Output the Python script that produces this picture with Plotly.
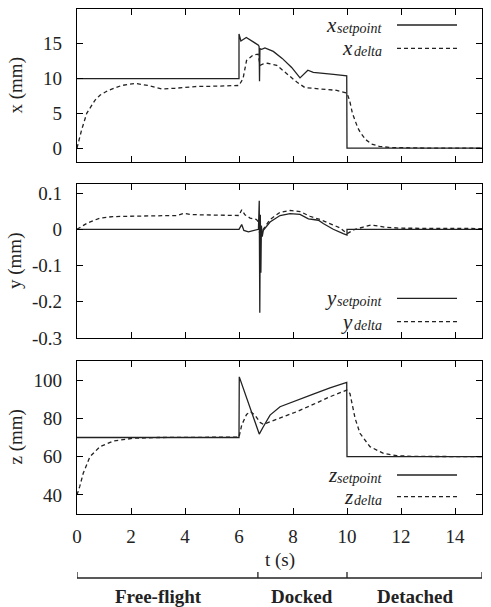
import plotly.graph_objects as go

# ---------------- data ----------------
t_x_set = [0, 6.0, 6.0, 6.07, 6.27, 6.59, 6.72, 6.745, 6.76, 6.775, 6.84, 6.96, 7.27, 7.6, 7.95,
           8.26, 8.41, 8.55, 8.75, 9.12, 9.5, 9.99, 10.0, 15.0]
x_set = [10, 10, 16.4, 15.4, 15.9, 15.2, 14.8, 14.6, 9.6, 14.3, 14.2, 14.4, 13.9, 12.9, 11.6,
         10.1, 10.6, 11.2, 10.9, 10.7, 10.6, 10.4, 0, 0]

t_x_delta = [0, 0.17, 0.36, 0.67, 0.85, 1.16, 1.65, 2.15, 2.64, 3.14, 3.63, 4.37, 5.1, 6.0,
             6.15, 6.28, 6.53, 6.71, 6.78, 6.9, 7.05, 7.4, 7.77, 8.14, 8.44, 9.0, 9.62, 10.0,
             10.1, 10.2, 10.3, 10.4, 10.5, 10.7, 10.9, 11.2, 11.6, 12.0, 13.0, 15.0]
x_delta = [0, 2.6, 5.0, 6.9, 7.6, 8.3, 9.0, 9.3, 9.0, 8.5, 8.6, 8.85, 8.9, 9.0,
           10.0, 12.6, 13.4, 13.5, 11.9, 12.1, 12.2, 11.9, 10.7, 9.5, 8.7, 8.5, 8.3, 7.9,
           6.8, 5.0, 3.8, 2.9, 2.2, 1.2, 0.6, 0.25, 0.08, 0.03, 0.0, 0.0]

t_y_set = [0, 6.0, 6.1, 6.18, 6.35, 6.59, 6.72, 6.75, 6.77, 6.79, 6.81, 6.83, 6.86, 6.9,
           7.15, 7.52, 7.89, 8.26, 8.57, 8.75, 8.94, 9.12, 9.49, 9.86, 10.0, 10.0, 15.0]
y_set = [0, 0, 0.013, -0.003, -0.007, -0.003, 0, 0.079, -0.23, 0.04, -0.12, 0.01, -0.02, -0.003,
         0.02, 0.038, 0.043, 0.041, 0.029, 0.027, 0.025, 0.016, 0.0, -0.012, -0.016, 0, 0]

t_y_delta = [0, 0.4, 0.85, 1.33, 2.7, 3.7, 3.94, 4.2, 4.55, 5.8, 6.0, 6.1, 6.22, 6.41, 6.65,
             6.72, 6.76, 6.8, 6.85, 6.9, 7.15, 7.52, 7.89, 8.26, 8.63, 9.0, 9.37, 9.74, 10.0,
             10.3, 10.6, 10.9, 11.4, 12.0, 15.0]
y_delta = [0, 0.018, 0.031, 0.035, 0.037, 0.038, 0.044, 0.041, 0.040, 0.038, 0.038, 0.054, 0.040,
           0.031, 0.027, 0.020, -0.010, 0.005, -0.008, 0.0, 0.027, 0.047, 0.052, 0.049, 0.036,
           0.027, 0.016, 0.004, -0.012, 0.0, 0.006, 0.012, 0.006, 0.003, 0.002]

t_z_set = [0, 6.0, 6.01, 6.75, 6.9, 7.15, 7.52, 8.14, 8.75, 9.37, 9.99, 10.0, 15.0]
z_set = [70, 70, 101.7, 71.8, 75.6, 81.7, 86.1, 89.6, 92.7, 96.0, 98.8, 60, 60]

t_z_delta = [0, 0.1, 0.23, 0.48, 0.85, 1.35, 2.09, 3.0, 6.0, 6.1, 6.28, 6.43, 6.59, 6.78, 6.9,
             7.52, 8.14, 8.75, 9.37, 9.99, 10.11, 10.3, 10.48, 10.85, 11.35, 11.84, 12.5, 15.0]
z_delta = [40, 44.3, 51.3, 60, 65.2, 68.2, 69.6, 70, 70.2, 76.5, 82.1, 83.5, 81.7, 77.9, 76.9,
           80, 83.5, 87.3, 91.3, 94.8, 93, 80, 72.2, 65.2, 61.7, 60.5, 60.1, 60]

t_ticks = [0, 2, 4, 6, 8, 10, 12, 14]
x_ticks = [0, 5, 10, 15, 20]
y_ticks = [-0.3, -0.2, -0.1, 0, 0.1]
y_ticktext = ["-0.3", "-0.2", "-0.1", "0", "0.1"]
z_ticks = [40, 60, 80, 100]

phase_bounds = [0, 6.7, 10, 15]
phase_names = ["Free-flight", "Docked", "Detached"]
phase_label_t = [3.0, 8.35, 12.5]

legend_sym = ["x", "y", "z"]
legend_sub = ["setpoint", "delta"]

# ---------------- style ----------------
INK = "#222222"
FONT = "Liberation Serif"
solid = dict(color=INK, width=1.3)
dashed = dict(color=INK, width=1.3, dash="4px,3px")

W, H = 491, 607
ML, MR, MT, MB = 77, 9, 9, 93
PW, PH = W - ML - MR, H - MT - MB


def px_x(p):
    return (p - ML) / PW


def px_y(p):
    return (H - MB - p) / PH


def fnt(size):
    return dict(family=FONT, size=size)


fig = go.Figure()
series = [
    (t_x_set, x_set, t_x_delta, x_delta, "x", "y"),
    (t_y_set, y_set, t_y_delta, y_delta, "x2", "y2"),
    (t_z_set, z_set, t_z_delta, z_delta, "x3", "y3"),
]
for ts, vs, td, vd, xa, ya in series:
    fig.add_trace(go.Scatter(x=ts, y=vs, mode="lines", line=solid, xaxis=xa, yaxis=ya,
                             showlegend=False))
    fig.add_trace(go.Scatter(x=td, y=vd, mode="lines", line=dashed, xaxis=xa, yaxis=ya,
                             showlegend=False))

axis_common = dict(showline=True, linecolor="black", linewidth=1.2, mirror="ticks",
                   ticks="inside", ticklen=6, tickwidth=1, tickcolor="black",
                   showgrid=False, zeroline=False, tickfont=fnt(19))

doms = [[px_y(162), px_y(9)], [px_y(338), px_y(184)], [px_y(514), px_y(361)]]
fig.update_layout(
    width=W, height=H,
    margin=dict(l=ML, r=MR, t=MT, b=MB),
    paper_bgcolor="white", plot_bgcolor="white",
    font=dict(family=FONT, color=INK),
    xaxis=dict(axis_common, domain=[0, 1], anchor="y", range=[0, 15], tickvals=t_ticks,
               showticklabels=False),
    xaxis2=dict(axis_common, domain=[0, 1], anchor="y2", range=[0, 15], tickvals=t_ticks,
                showticklabels=False),
    xaxis3=dict(axis_common, domain=[0, 1], anchor="y3", range=[0, 15], tickvals=t_ticks,
                ticklabelstandoff=5),
    yaxis=dict(axis_common, domain=doms[0], anchor="x", range=[-2, 20], tickvals=x_ticks,
               ticklabelstandoff=10),
    yaxis2=dict(axis_common, domain=doms[1], anchor="x2", range=[-0.3, 0.125],
                tickvals=y_ticks, ticktext=y_ticktext, ticklabelstandoff=10),
    yaxis3=dict(axis_common, domain=doms[2], anchor="x3", range=[30, 110], tickvals=z_ticks,
                ticklabelstandoff=10),
)

# y-axis titles
titles = ["x (mm)", "y (mm)", "z (mm)"]
for title, d in zip(titles, doms):
    fig.add_annotation(text=title, xref="paper", yref="paper", x=px_x(15),
                       y=(d[0] + d[1]) / 2, xanchor="center", yanchor="middle",
                       textangle=-90, showarrow=False, font=fnt(19))

# x-axis title
fig.add_annotation(text="t (s)", xref="paper", yref="paper", x=0.5, y=px_y(560),
                   xanchor="center", yanchor="middle", showarrow=False, font=fnt(19))

# manual legends: symbol + subscript text, then line sample
leg_line_px = [(25, 48.3), (298.3, 321.7), (475, 496.7)]
sub_w = {"setpoint": 44, "delta": 28}
for sym, ys in zip(legend_sym, leg_line_px):
    for sub, yy, ln in zip(legend_sub, ys, (solid, dashed)):
        fig.add_annotation(text=f"<i>{sub}</i>", xref="paper", yref="paper",
                           x=px_x(384), y=px_y(yy + 3.5), xanchor="right", yanchor="middle",
                           showarrow=False, font=fnt(14))
        fig.add_annotation(text=f"<i>{sym}</i>", xref="paper", yref="paper",
                           x=px_x(384 - sub_w[sub] - 1), y=px_y(yy), xanchor="right",
                           yanchor="middle", showarrow=False, font=fnt(21))
        fig.add_shape(type="line", xref="paper", yref="paper", x0=px_x(397), x1=px_x(457),
                      y0=px_y(yy), y1=px_y(yy), line=ln)

# phase bracket below the time axis
by = px_y(578)
tick_h = 6 / PH
fig.add_shape(type="line", xref="x3", yref="paper", x0=phase_bounds[0], x1=phase_bounds[-1],
              y0=by, y1=by, line=dict(color=INK, width=1.3))
for b in phase_bounds:
    fig.add_shape(type="line", xref="x3", yref="paper", x0=b, x1=b, y0=by, y1=by + tick_h,
                  line=dict(color=INK, width=1.3))
for name, tc in zip(phase_names, phase_label_t):
    fig.add_annotation(text=f"<b>{name}</b>", xref="x3", yref="paper", x=tc, y=px_y(596),
                       xanchor="center", yanchor="middle", showarrow=False, font=fnt(19))

# force the serif face on every SVG text node of the chart
css_js = (
    "var s=document.createElement('style');"
    "s.textContent='.main-svg text, .main-svg tspan{font-family:\"Liberation Serif\", serif !important;}';"
    "document.head.appendChild(s);"
)
fig.write_html("out.html", post_script=css_js)
